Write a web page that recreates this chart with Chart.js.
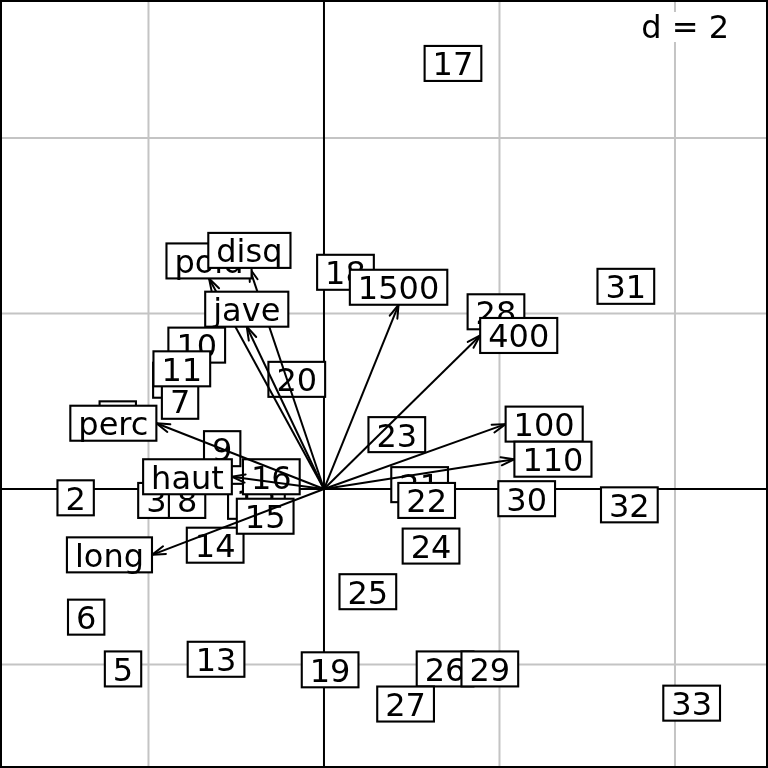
<!DOCTYPE html>
<html><head><meta charset="utf-8">
<script src="https://cdn.jsdelivr.net/npm/chart.js@4.4.0/dist/chart.umd.min.js"></script>
<style>html,body{margin:0;padding:0;background:#fff}#wrap{width:768px;height:768px;position:relative}</style>
</head><body><div id="wrap"><canvas id="c" width="768" height="768"></canvas></div>
<script>
// Individuals (row scores)
const indLabels = ['1','2','3','4','5','6','7','8','9','10','11','12','13','14','15','16','17','18','19','20','21','22','23','24','25','26','27','28','29','30','31','32','33'];
const indX = [-2.35,-2.83,-1.91,-1.74,-2.29,-2.71,-1.64,-1.56,-1.16,-1.45,-1.62,-0.77,-1.23,-1.24,-0.67,-0.60,1.47,0.245,0.07,-0.31,1.09,1.17,0.83,1.22,0.50,1.38,0.93,1.96,1.89,2.31,3.44,3.48,4.19];
const indY = [0.80,-0.10,-0.13,1.24,-2.05,-1.46,1.00,-0.13,0.46,1.64,1.37,-0.14,-1.94,-0.64,-0.31,0.14,4.85,2.47,-2.06,1.25,0.05,-0.13,0.62,-0.65,-1.17,-2.05,-2.45,2.02,-2.05,-0.11,2.31,-0.18,-2.44];
// Variables (arrows)
const varLabels = ['100','long','poid','haut','400','110','disq','perc','jave','1500'];
const varX = [2.07,-1.96,-1.31,-1.05,1.78,2.17,-0.85,-1.91,-0.88,0.85];
const varY = [0.74,-0.75,2.40,0.14,1.75,0.34,2.52,0.75,1.85,2.10];
// Grid
const gridTicks = [-2,0,2,4];
const dLabel = 'd = 2';
const xMin = -3.692, xMax = 5.060, yMin = -3.179, yMax = 5.573;

const FONT = '32px "DejaVu Sans"';
const BOX_H = 35;
function boxW(ctx, t){ ctx.font = FONT; return ctx.measureText(t).width + 16; }
function drawBox(ctx, cx, cy, t){
  const w = boxW(ctx, t);
  ctx.save();
  ctx.fillStyle = '#fff';
  ctx.fillRect(cx - w/2, cy - BOX_H/2, w, BOX_H);
  ctx.strokeStyle = '#000'; ctx.lineWidth = 2.1;
  ctx.strokeRect(cx - w/2, cy - BOX_H/2, w, BOX_H);
  ctx.fillStyle = '#000'; ctx.font = FONT; ctx.textAlign = 'center'; ctx.textBaseline = 'alphabetic';
  ctx.fillText(t, cx, cy + 12);
  ctx.restore();
}

const adePlugin = {
  id: 'ade',
  beforeDatasetsDraw(chart){
    const ctx = chart.ctx, xs = chart.scales.x, ys = chart.scales.y;
    const a = chart.chartArea;
    ctx.save();
    ctx.fillStyle = '#fff'; ctx.fillRect(0,0,chart.width,chart.height);
    ctx.strokeStyle = '#c4c4c4'; ctx.lineWidth = 2;
    gridTicks.forEach(v => {
      if (v === 0) return;
      const px = xs.getPixelForValue(v), py = ys.getPixelForValue(v);
      ctx.beginPath(); ctx.moveTo(px, a.top); ctx.lineTo(px, a.bottom); ctx.stroke();
      ctx.beginPath(); ctx.moveTo(a.left, py); ctx.lineTo(a.right, py); ctx.stroke();
    });
    ctx.strokeStyle = '#000'; ctx.lineWidth = 2;
    const x0 = xs.getPixelForValue(0), y0 = ys.getPixelForValue(0);
    ctx.beginPath(); ctx.moveTo(x0, a.top); ctx.lineTo(x0, a.bottom); ctx.stroke();
    ctx.beginPath(); ctx.moveTo(a.left, y0); ctx.lineTo(a.right, y0); ctx.stroke();
    ctx.restore();
  },
  afterDatasetDraw(chart, args){
    if (args.index !== 0) return;
    const ctx = chart.ctx, xs = chart.scales.x, ys = chart.scales.y;
    indLabels.forEach((t, i) => drawBox(ctx, xs.getPixelForValue(indX[i]), ys.getPixelForValue(indY[i]), t));
  },
  afterDatasetsDraw(chart){
    const ctx = chart.ctx, xs = chart.scales.x, ys = chart.scales.y;
    const x0 = xs.getPixelForValue(0), y0 = ys.getPixelForValue(0);
    ctx.save();
    ctx.strokeStyle = '#000'; ctx.lineWidth = 2; ctx.lineCap = 'round';
    varLabels.forEach((t, i) => {
      const px = xs.getPixelForValue(varX[i]), py = ys.getPixelForValue(varY[i]);
      const ang = Math.atan2(py - y0, px - x0);
      const L = 14, h = 17 * Math.PI / 180;
      ctx.beginPath();
      ctx.moveTo(px - L*Math.cos(ang - h), py - L*Math.sin(ang - h));
      ctx.lineTo(px, py);
      ctx.lineTo(px - L*Math.cos(ang + h), py - L*Math.sin(ang + h));
      ctx.stroke();
    });
    ctx.restore();
    varLabels.forEach((t, i) => {
      const px = xs.getPixelForValue(varX[i]), py = ys.getPixelForValue(varY[i]);
      const xr = varX[i], yr = varY[i];
      const w = boxW(ctx, t);
      let cx = px, cy = py;
      if (xr > yr && xr > -yr) cx = px + w/2;
      else if (xr > yr && xr <= -yr) cy = py + BOX_H/2;
      else if (xr <= yr && xr <= -yr) cx = px - w/2;
      else cy = py - BOX_H/2;
      drawBox(ctx, cx, cy, t);
    });
    // d = 2 legend
    ctx.save();
    ctx.font = FONT;
    const tw = ctx.measureText(dLabel).width;
    const tx = 729 - tw;
    ctx.fillStyle = '#fff';
    ctx.fillRect(tx - 2, 12, tw + 4, 30);
    ctx.fillStyle = '#000'; ctx.textAlign = 'left'; ctx.textBaseline = 'alphabetic';
    ctx.fillText(dLabel, tx, 38);
    // frame
    ctx.strokeStyle = '#000'; ctx.lineWidth = 2;
    ctx.strokeRect(1, 1, chart.width - 2, chart.height - 2);
    ctx.restore();
  }
};

const datasets = [{
  label: 'ind', data: indX.map((x, i) => ({x, y: indY[i]})),
  pointRadius: 0, showLine: false, order: 10
}];
varLabels.forEach((t, i) => datasets.push({
  label: t, data: [{x:0, y:0}, {x: varX[i], y: varY[i]}],
  showLine: true, borderColor: '#000', borderWidth: 2, pointRadius: 0, fill: false, order: 0
}));

new Chart(document.getElementById('c'), {
  type: 'scatter',
  data: { datasets },
  options: {
    responsive: false, animation: false, devicePixelRatio: 1,
    layout: { padding: 0 },
    plugins: { legend: { display: false }, tooltip: { enabled: false } },
    scales: {
      x: { type: 'linear', display: false, min: xMin, max: xMax },
      y: { type: 'linear', display: false, min: yMin, max: yMax }
    }
  },
  plugins: [adePlugin]
});
</script></body></html>
